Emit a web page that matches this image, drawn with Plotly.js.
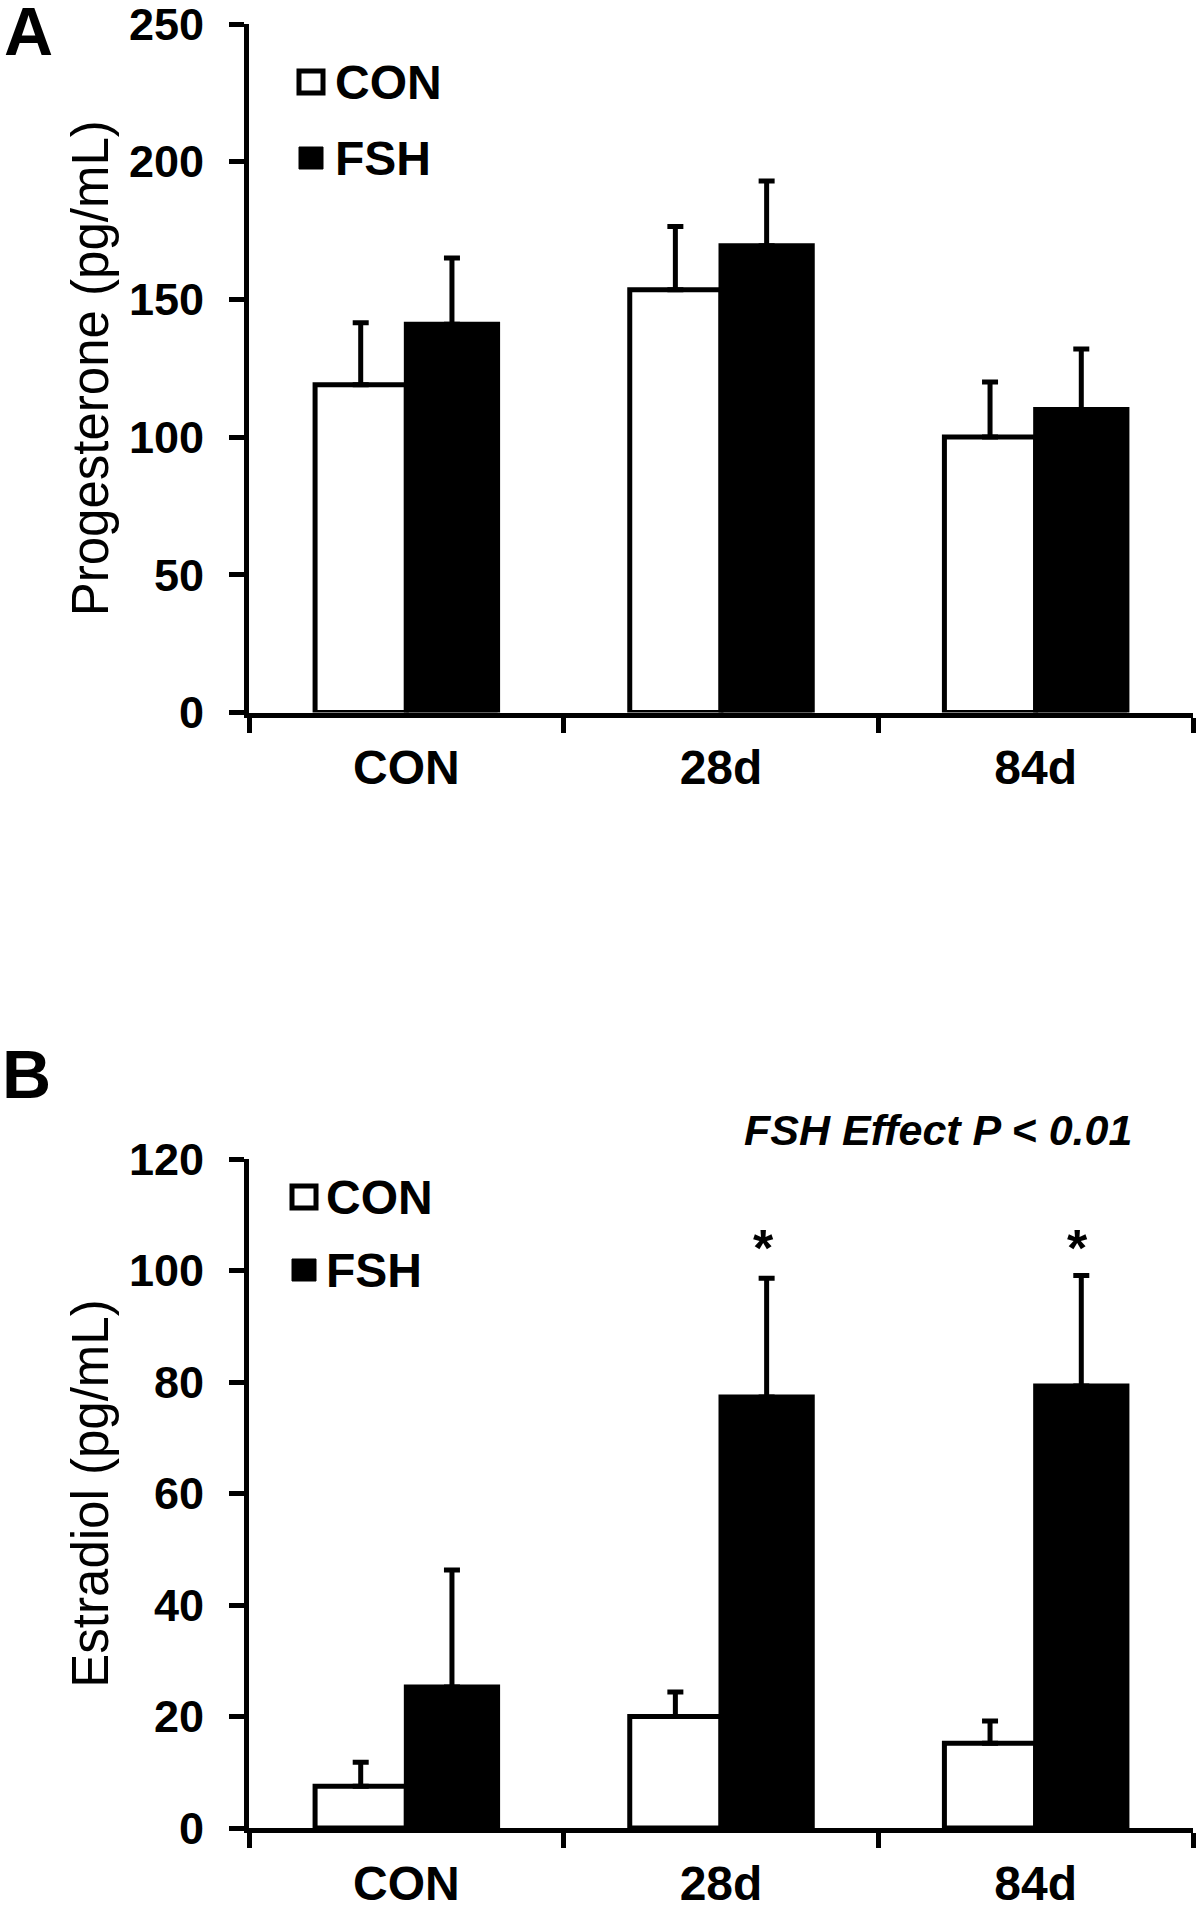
<!DOCTYPE html>
<html>
<head>
<meta charset="utf-8">
<script src="https://cdn.plot.ly/plotly-3.0.1.min.js"></script>
<style>html,body{margin:0;padding:0;background:#fff;}#chart{width:1200px;height:1906px;}</style>
</head>
<body>
<div id="chart"></div>
<script>
// ---- data ----
const categories = ['CON', '28d', '84d'];
const seriesNames = ['CON', 'FSH'];

// Panel A: Progesterone (pg/mL)
const progCON = [119, 153.5, 100];
const progCONsem = [22.5, 23, 20];
const progFSH = [141, 169.5, 110];
const progFSHsem = [24, 23.5, 22];

// Panel B: Estradiol (pg/mL)
const estCON = [7.5, 20, 15.2];
const estCONsem = [4.3, 4.4, 4.0];
const estFSH = [25.3, 77.3, 79.3];
const estFSHsem = [21.0, 21.3, 19.8];

const yTicksA = [0, 50, 100, 150, 200, 250];
const yTicksB = [0, 20, 40, 60, 80, 100, 120];
const sigCategories = ['28d', '84d'];
const sigText = '*';
const effectText = 'FSH Effect P < 0.01';

// ---- layout helpers ----
const W = 1200, H = 1906, L = 249, R = 7, T = 20, B = 40;
const fx = p => (p - L) / (W - L - R);
const fy = p => (H - B - p) / (H - T - B);
const FONT = 'Liberation Sans, Arial, sans-serif';
const zeros = n => new Array(n).fill(0);

function barTrace(name, y, sem, color, xa, ya) {
  return {
    type: 'bar', name: name, x: categories, y: y, xaxis: xa, yaxis: ya,
    marker: {color: color, line: {color: '#000', width: 5}},
    error_y: {type: 'data', symmetric: false, array: sem, arrayminus: zeros(sem.length),
              color: '#000', thickness: 5, width: 8},
    showlegend: false, hoverinfo: 'x+y'
  };
}

const data = [
  barTrace(seriesNames[0], progCON, progCONsem, '#fff', 'x', 'y'),
  barTrace(seriesNames[1], progFSH, progFSHsem, '#000', 'x', 'y'),
  barTrace(seriesNames[0], estCON, estCONsem, '#fff', 'x2', 'y2'),
  barTrace(seriesNames[1], estFSH, estFSHsem, '#000', 'x2', 'y2')
];

const xCommon = {
  type: 'category', showline: true, linecolor: '#000', linewidth: 5,
  ticks: 'outside', tickson: 'boundaries', ticklen: 15, tickwidth: 5, tickcolor: '#000',
  showgrid: false, zeroline: false, ticklabelstandoff: 9, automargin: false,
  ticklabeloverflow: 'allow',
  tickfont: {family: FONT, size: 48, color: '#000', weight: 'bold'},
  range: [-0.5, 2.5], fixedrange: true
};
function yCommon(ticks, title) {
  return {
    showline: true, linecolor: '#000', linewidth: 5,
    ticks: 'outside', ticklen: 15, tickwidth: 5, tickcolor: '#000',
    showgrid: false, zeroline: false, tickmode: 'array', tickvals: ticks,
    ticktext: ticks.map(String), ticklabelstandoff: 16, ticklabeloverflow: 'allow',
    tickfont: {family: FONT, size: 45, color: '#000', weight: 'bold'},
    range: [ticks[0], ticks[ticks.length - 1]],
    automargin: 'left',
    title: {text: title, font: {family: FONT, size: 51, color: '#000'}, standoff: 6},
    fixedrange: true
  };
}

const shapes = [];
const annotations = [];

function legend(x0, rowsY, textX) {
  // open square (CON) and filled square (FSH)
  shapes.push({type: 'rect', xref: 'paper', yref: 'paper',
    x0: fx(x0 - 12), x1: fx(x0 + 12), y0: fy(rowsY[0] + 11), y1: fy(rowsY[0] - 11),
    fillcolor: '#fff', line: {color: '#000', width: 5}});
  shapes.push({type: 'rect', xref: 'paper', yref: 'paper',
    x0: fx(x0 - 12), x1: fx(x0 + 12), y0: fy(rowsY[1] + 11), y1: fy(rowsY[1] - 11),
    fillcolor: '#000', line: {color: '#000', width: 1}});
  seriesNames.forEach((n, i) => {
    annotations.push({xref: 'paper', yref: 'paper', x: fx(textX), y: fy(rowsY[i]),
      xanchor: 'left', yanchor: 'middle', text: n, showarrow: false,
      font: {family: FONT, size: 48, color: '#000', weight: 'bold'}});
  });
}
legend(311, [82, 158], 333);
legend(304, [1197, 1270], 324);

// Panel letters
annotations.push({xref: 'paper', yref: 'paper', x: fx(28), y: fy(-8), xanchor: 'center', yanchor: 'top',
  borderpad: 0, text: 'A', showarrow: false, font: {family: FONT, size: 68, color: '#000', weight: 'bold'}});
annotations.push({xref: 'paper', yref: 'paper', x: fx(26), y: fy(1074), xanchor: 'center', yanchor: 'middle',
  text: 'B', showarrow: false, font: {family: FONT, size: 68, color: '#000', weight: 'bold'}});

// Effect text
annotations.push({xref: 'paper', yref: 'paper', x: fx(938), y: fy(1130), xanchor: 'center', yanchor: 'middle',
  text: effectText, showarrow: false,
  font: {family: FONT, size: 43, color: '#000', weight: 'bold', style: 'italic'}});

// Significance asterisks above FSH bars
sigCategories.forEach(c => {
  annotations.push({xref: 'x2', yref: 'y2', x: c, y: 104, xshift: 42, xanchor: 'center', yanchor: 'middle',
    text: sigText, showarrow: false, font: {family: FONT, size: 52, color: '#000', weight: 'bold'}});
});

const layout = {
  width: W, height: H,
  margin: {l: L, r: R, t: T, b: B, pad: 0},
  paper_bgcolor: '#fff', plot_bgcolor: '#fff',
  barmode: 'group', bargap: 0.42, bargroupgap: 0,
  showlegend: false,
  xaxis: Object.assign({}, xCommon, {anchor: 'y', domain: [0, 1]}),
  xaxis2: Object.assign({}, xCommon, {anchor: 'y2', domain: [0, 1]}),
  yaxis: Object.assign(yCommon(yTicksA, 'Progesterone (pg/mL)'), {anchor: 'x', domain: [fy(712.5), fy(24)]}),
  yaxis2: Object.assign(yCommon(yTicksB, 'Estradiol (pg/mL)'), {anchor: 'x2', domain: [fy(1828), fy(1159)]}),
  shapes: shapes,
  annotations: annotations
};

Plotly.newPlot('chart', data, layout, {displayModeBar: false, staticPlot: true});
</script>
</body>
</html>
